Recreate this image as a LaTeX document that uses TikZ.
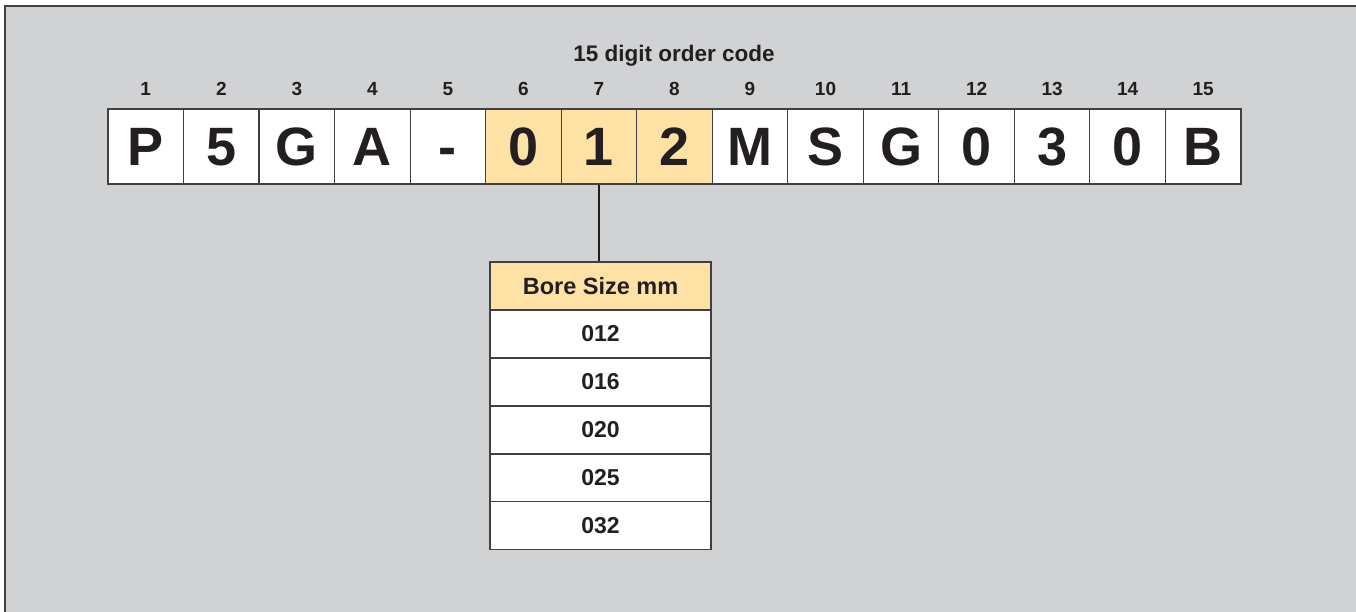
\documentclass[tikz,border=0pt]{standalone}
\usepackage{fontspec}
\setmainfont{Liberation Sans}
\definecolor{bggray}{HTML}{D1D2D4}
\definecolor{hl}{HTML}{FEE1A5}
\definecolor{ln}{HTML}{404040}
\definecolor{tx}{HTML}{231F20}
\begin{document}
\begin{tikzpicture}[x=1pt,y=-1pt,
  cell/.style={draw=ln,line width=1.1pt,fill=white,minimum width=75.5pt,minimum height=75pt,inner sep=0pt,text height=39pt,text depth=0pt,text=tx,font=\fontsize{54}{54}\selectfont\bfseries},
  hcell/.style={cell,fill=hl},
  num/.style={text=tx,font=\fontsize{19}{19}\selectfont\bfseries,inner sep=0pt},
  trow/.style={draw=ln,line width=1.1pt,fill=white,minimum width=221pt,minimum height=48pt,inner sep=0pt,text=tx,font=\fontsize{23}{23}\selectfont\bfseries},
  thead/.style={trow,fill=hl,font=\fontsize{23.5}{23.5}\selectfont\bfseries}]
\useasboundingbox (0,0) rectangle (1356,612);
\fill[white] (0,0) rectangle (1356,612);
\fill[bggray] (5,6) rectangle (1356,612);
\draw[ln,line width=1.5pt] (5,612) -- (5,6) -- (1356,6);
\node[num,font=\fontsize{22.5}{22.5}\selectfont\bfseries] (title) at (674,55.5) {15 digit order code};
\foreach \i/\c in {1/P,2/5,3/G,4/A,5/-,6/0,7/1,8/2,9/M,10/S,11/G,12/0,13/3,14/0,15/B}{
  \pgfmathsetmacro{\xc}{108+(\i-0.5)*75.53}
  \ifnum\i>5 \ifnum\i<9 \def\st{hcell}\else\def\st{cell}\fi\else\def\st{cell}\fi
  \node[\st] (c\i) at (\xc,146.5) {\c};
  \node[num] (n\i) at (\xc,89) {\i};
}
\node[thead] (h) at (600.5,286) {Bore Size mm};
\node[trow] (r1) at (600.5,334) {012};
\node[trow] (r2) at (600.5,382) {016};
\node[trow] (r3) at (600.5,430) {020};
\node[trow] (r4) at (600.5,478) {025};
\node[trow] (r5) at (600.5,525.5) {032};
\draw[tx,line width=2pt] (c7.south) -- (c7.south |- h.north);
\end{tikzpicture}
\end{document}
